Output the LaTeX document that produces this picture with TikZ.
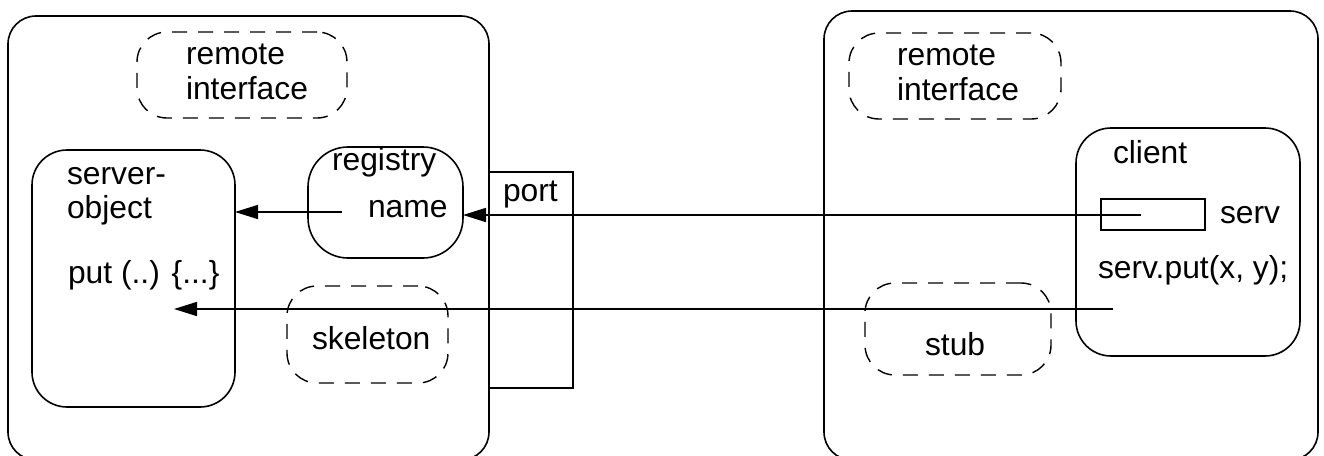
\documentclass[tikz,border=0pt]{standalone}
\usepackage{fontspec}
\setmainfont{Liberation Sans}
\usetikzlibrary{arrows.meta}
\tikzset{
  box/.style={draw, line width=1.6pt, inner sep=0pt, outer sep=0pt},
  solidbox/.style={box, rounded corners=#1},
  dashbox/.style={box, line width=1.4pt, dash pattern=on 15pt off 11pt, rounded corners=30pt},
  lbl/.style={anchor=base west, inner sep=0pt, outer sep=0pt, font=\fontsize{31.8pt}{35pt}\selectfont},
  conn/.style={line width=1.6pt, -{Triangle[length=23pt,width=14pt]}}
}
\begin{document}
\begin{tikzpicture}[x=1pt,y=-1pt]
\useasboundingbox (0,0) rectangle (1324,455);
% big containers
\node[solidbox=28pt, minimum width=481pt, minimum height=444pt] (leftbox) at (248.5,238) {};
\node[solidbox=28pt, minimum width=494pt, minimum height=449pt] (rightbox) at (1071,235.5) {};
% remote interfaces
\node[dashbox, minimum width=210pt, minimum height=86pt] (ril) at (242,75) {};
\node[dashbox, minimum width=212pt, minimum height=86pt] (rir) at (955,76) {};
\node[lbl] (rilt1) at (186,64) {remote};
\node[lbl] (rilt2) at (186,99) {interface};
\node[lbl] (rirt1) at (897,65) {remote};
\node[lbl] (rirt2) at (897,100) {interface};
% server object
\node[solidbox=35pt, minimum width=203pt, minimum height=257pt] (srvobj) at (133.5,278.5) {};
\node[lbl] (so1) at (67,184) {server-};
\node[lbl] (so2) at (67,218) {object};
\node[lbl] (so3) at (68,283) {put (..) \{...\}};
% registry
\node[solidbox=40pt, minimum width=155pt, minimum height=111pt] (registry) at (385.5,202.5) {};
\node[lbl] (regt) at (332,170) {registry};
\node[lbl] (namet) at (368,217) {name};
% port
\node[box, minimum width=84pt, minimum height=216pt] (port) at (531,280) {};
\node[lbl] (portt) at (503,201) {port};
% skeleton
\node[dashbox, minimum width=161pt, minimum height=97pt] (skel) at (367.5,334.5) {};
\node[lbl] (skelt) at (312,349) {skeleton};
% client
\node[solidbox=35pt, minimum width=224pt, minimum height=228pt] (client) at (1188,242) {};
\node[lbl] (clientt) at (1113,163) {client};
\node[box, line width=1.3pt, minimum width=104pt, minimum height=31pt] (servrect) at (1153,214.5) {};
\node[lbl] (servt) at (1220,223) {serv};
\node[lbl] (callt) at (1098,278) {serv.put(x, y);};
% stub
\node[dashbox, minimum width=186pt, minimum height=92pt] (stub) at (958,329) {};
\node[lbl] (stubt) at (925,355) {stub};
% connector ends
\coordinate (a1s) at (1141,215);
\coordinate (a2s) at (342,212);
\coordinate (a3s) at (1113,309);
\coordinate (a3e) at (174,309);
% connectors
\draw[conn] (a1s) -- (registry.east |- a1s);
\draw[conn] (a2s) -- (srvobj.east |- a2s);
\draw[conn] (a3s) -- (a3e);
\end{tikzpicture}
\end{document}
